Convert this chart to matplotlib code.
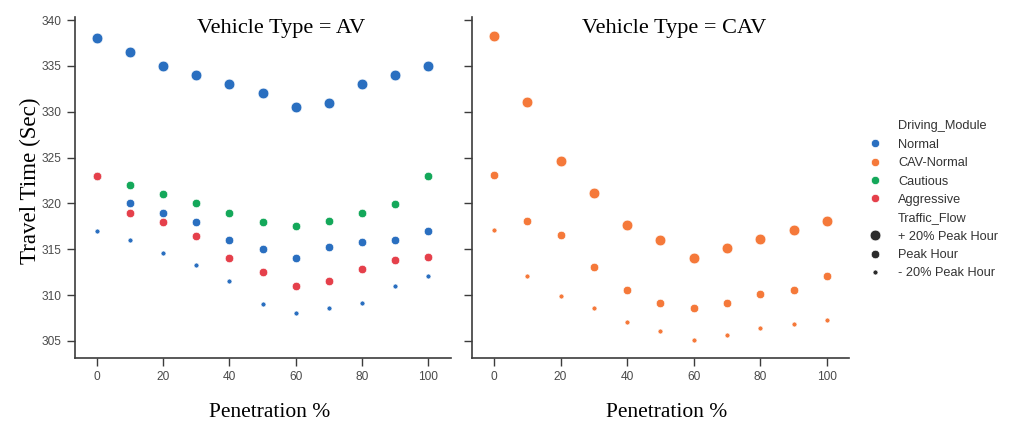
import matplotlib
matplotlib.use("Agg")
import matplotlib.pyplot as plt
from matplotlib.lines import Line2D

# penetration levels (%)
penetration = [0, 10, 20, 30, 40, 50, 60, 70, 80, 90, 100]

# AV travel times (sec)
av_normal_plus20 = [338, 336.5, 335, 334, 333, 332, 330.5, 331, 333, 334, 335]
av_normal_peak = [323, 320, 319, 318, 316, 315, 314, 315.25, 315.8, 316, 317]
av_cautious_peak = [323, 322, 321, 320, 319, 318, 317.5, 318.1, 319, 319.9, 323]
av_aggressive_peak = [323, 319, 318, 316.5, 314, 312.5, 311, 311.55, 312.9, 313.8, 314.2]
av_normal_minus20 = [317, 316, 314.6, 313.3, 311.55, 309.05, 308, 308.55, 309.15, 311, 312.05]

# CAV travel times (sec)
cav_plus20 = [338.3, 331.1, 324.6, 321.1, 317.6, 316, 314.1, 315.1, 316.1, 317.1, 318.1]
cav_peak = [323.1, 318.1, 316.6, 313.05, 310.55, 309.1, 308.6, 309.1, 310.1, 310.6, 312.1]
cav_minus20 = [317.1, 312.1, 309.9, 308.6, 307.1, 306.1, 305.1, 305.7, 306.4, 306.9, 307.3]

modules = ["Normal", "CAV-Normal", "Cautious", "Aggressive"]
flows = ["+ 20% Peak Hour", "Peak Hour", "- 20% Peak Hour"]

colors = {"Normal": "#2a6fc0", "CAV-Normal": "#f5793a",
          "Cautious": "#14a85a", "Aggressive": "#e5404b"}
sizes = {"+ 20% Peak Hour": 60, "Peak Hour": 38, "- 20% Peak Hour": 13}

serif = "Liberation Serif"
sans = "Liberation Sans"
ink = "#3c3c3c"

fig = plt.figure(figsize=(10.11, 4.21), dpi=100)
W, H = 1011, 421
ax1 = fig.add_axes([75 / W, (H - 357.5) / H, 375.7 / W, 340.2 / H])
ax2 = fig.add_axes([472.3 / W, (H - 357.5) / H, 377 / W, 340.2 / H], sharey=ax1)


def dots(ax, ys, module, flow):
    ax.scatter(penetration, ys, s=sizes[flow], color=colors[module],
               edgecolor="white", linewidth=0.5, zorder=3)


dots(ax1, av_normal_plus20, "Normal", "+ 20% Peak Hour")
dots(ax1, av_normal_peak, "Normal", "Peak Hour")
dots(ax1, av_cautious_peak, "Cautious", "Peak Hour")
dots(ax1, av_aggressive_peak, "Aggressive", "Peak Hour")
dots(ax1, av_normal_minus20, "Normal", "- 20% Peak Hour")

dots(ax2, cav_plus20, "CAV-Normal", "+ 20% Peak Hour")
dots(ax2, cav_peak, "CAV-Normal", "Peak Hour")
dots(ax2, cav_minus20, "CAV-Normal", "- 20% Peak Hour")

for ax, xc in ((ax1, 0.519), (ax2, 0.516)):
    ax.set_xlim(-6.5, 106.7)
    ax.set_xticks([0, 20, 40, 60, 80, 100])
    for side in ("top", "right"):
        ax.spines[side].set_visible(False)
    for side in ("left", "bottom"):
        ax.spines[side].set_color(ink)
        ax.spines[side].set_linewidth(1.2)
    ax.tick_params(length=5.5, width=1.0, color=ink, labelcolor="#4a4a4a",
                   labelsize=8.6, pad=4)
    for lab in ax.get_xticklabels() + ax.get_yticklabels():
        lab.set_family(sans)
    ax.set_xlabel("Penetration %", family=serif, fontsize=15.5)
    ax.xaxis.set_label_coords(xc, -0.134)

ax1.set_ylim(303.2, 340.3)
ax1.set_yticks([305, 310, 315, 320, 325, 330, 335, 340])
ax2.tick_params(labelleft=False)
ax1.set_ylabel("Travel Time (Sec)", family=serif, fontsize=16.6)
ax1.yaxis.set_label_coords(-0.091, 0.519)

ax1.text(0.548, 0.966, "Vehicle Type = AV", transform=ax1.transAxes,
         ha="center", va="center", family=serif, fontsize=16)
ax2.text(0.535, 0.966, "Vehicle Type = CAV", transform=ax2.transAxes,
         ha="center", va="center", family=serif, fontsize=16)

# legend with section headings, seaborn style
blank = Line2D([], [], linestyle="none")
handles = [blank]
labels = ["Driving_Module"]
for m in modules:
    handles.append(Line2D([], [], linestyle="none", marker="o", markersize=6,
                          markerfacecolor=colors[m], markeredgecolor="white",
                          markeredgewidth=0.5))
    labels.append(m)
handles.append(blank)
labels.append("Traffic_Flow")
for f in flows:
    handles.append(Line2D([], [], linestyle="none", marker="o",
                          markersize=sizes[f] ** 0.5, markerfacecolor="#2b2b2b",
                          markeredgecolor="white", markeredgewidth=0.5))
    labels.append(f)

leg = fig.legend(handles, labels, loc="upper left",
                 bbox_to_anchor=(863 / W, (H - 114) / H), frameon=False,
                 prop={"family": sans, "size": 9.2}, labelspacing=0.5,
                 handlelength=0.9, handletextpad=1.35, borderpad=0)
for t in leg.get_texts():
    t.set_color("#333333")

fig.savefig("out.png", dpi=100)
